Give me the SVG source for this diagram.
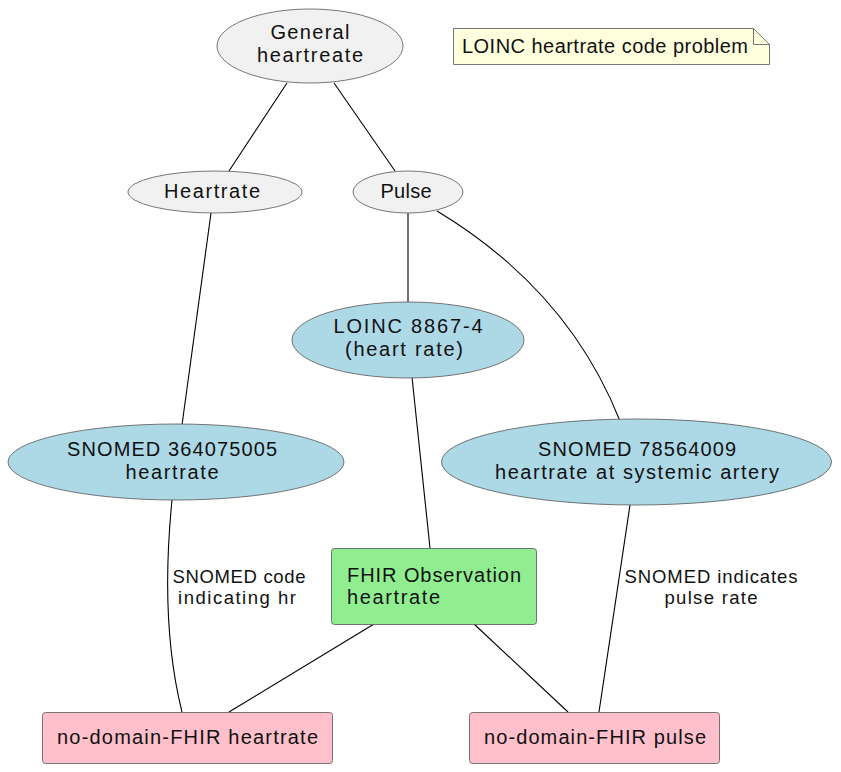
<svg xmlns="http://www.w3.org/2000/svg" width="841" height="772" viewBox="0 0 841 772">
<style>
text{font-family:"Liberation Sans",Arial,sans-serif;font-size:20px;fill:#111;text-anchor:middle}
.lbl{font-size:18.5px}
.st{text-anchor:start}
.node{stroke:#555;stroke-width:0.8}
.gray{fill:#F1F1F1}
.blue{fill:#ADD8E6}
.green{fill:#90EE90}
.pink{fill:#FFC0CB}
.edge{fill:none;stroke:#000;stroke-width:1.1}
</style>
<rect width="841" height="772" fill="#fff"/>
<g id="connectors">
<path class="edge" d="M287,83 L229,171"/>
<path class="edge" d="M334,83 L395,171"/>
<path class="edge" d="M211,213 L182,425"/>
<path class="edge" d="M408,213 L408,302"/>
<path class="edge" d="M437,211 C510,255 580,320 620,421"/>
<path class="edge" d="M412,377 L430,548"/>
<path class="edge" d="M172,500 C166,560 164,640 182,712"/>
<path class="edge" d="M630,505 L599,712"/>
<path class="edge" d="M374,624 L229,712"/>
<path class="edge" d="M474,624 L568,712"/>
<text class="lbl" x="239" y="583" textLength="133" lengthAdjust="spacing">SNOMED code</text>
<text class="lbl" x="237" y="604" textLength="118" lengthAdjust="spacing">indicating hr</text>
<text class="lbl" x="711" y="583" textLength="173" lengthAdjust="spacing">SNOMED indicates</text>
<text class="lbl" x="711" y="604" textLength="93" lengthAdjust="spacing">pulse rate</text>
</g>
<g id="general">
<ellipse class="node gray" cx="310" cy="46" rx="93" ry="37"/>
<text x="310" y="39" textLength="79" lengthAdjust="spacing">General</text>
<text x="310" y="62" textLength="106" lengthAdjust="spacing">heartreate</text>
</g>
<g id="heartrate">
<ellipse class="node gray" cx="215" cy="192" rx="87" ry="21"/>
<text x="212" y="198" textLength="96" lengthAdjust="spacing">Heartrate</text>
</g>
<g id="pulse">
<ellipse class="node gray" cx="408" cy="192" rx="55" ry="21"/>
<text x="406" y="198" textLength="51" lengthAdjust="spacing">Pulse</text>
</g>
<g id="loinc">
<ellipse class="node blue" cx="408" cy="340" rx="116" ry="38"/>
<text x="408" y="333" textLength="149" lengthAdjust="spacing">LOINC 8867-4</text>
<text x="404" y="356" textLength="118" lengthAdjust="spacing">(heart rate)</text>
</g>
<g id="snomed364075005">
<ellipse class="node blue" cx="176" cy="462" rx="168" ry="38"/>
<text x="172" y="456" textLength="210" lengthAdjust="spacing">SNOMED 364075005</text>
<text x="172" y="479" textLength="93" lengthAdjust="spacing">heartrate</text>
</g>
<g id="snomed78564009">
<ellipse class="node blue" cx="636.5" cy="462" rx="195" ry="43"/>
<text x="637" y="456" textLength="198" lengthAdjust="spacing">SNOMED 78564009</text>
<text x="637" y="479" textLength="284" lengthAdjust="spacing">heartrate at systemic artery</text>
</g>
<g id="fhirObservation">
<rect class="node green" x="331.5" y="548.5" width="205" height="76" rx="3"/>
<text class="st" x="347" y="582" textLength="174" lengthAdjust="spacing">FHIR Observation</text>
<text class="st" x="347" y="604" textLength="93" lengthAdjust="spacing">heartrate</text>
</g>
<g id="noDomainHeartrate">
<rect class="node pink" x="42.5" y="712.5" width="290" height="51" rx="3"/>
<text x="187.5" y="744" textLength="261" lengthAdjust="spacing">no-domain-FHIR heartrate</text>
</g>
<g id="noDomainPulse">
<rect class="node pink" x="469.5" y="712.5" width="250" height="51" rx="3"/>
<text x="595" y="744" textLength="222" lengthAdjust="spacing">no-domain-FHIR pulse</text>
</g>
<g id="note">
<path class="node" fill="#FFFFDD" d="M453.5,28.5 L753.5,28.5 L769.5,44.5 L769.5,64.5 L453.5,64.5 Z"/>
<path class="node" fill="none" d="M753.5,28.5 L753.5,44.5 L769.5,44.5"/>
<text class="st" x="462" y="53" textLength="286" lengthAdjust="spacing">LOINC heartrate code problem</text>
</g>
</svg>
